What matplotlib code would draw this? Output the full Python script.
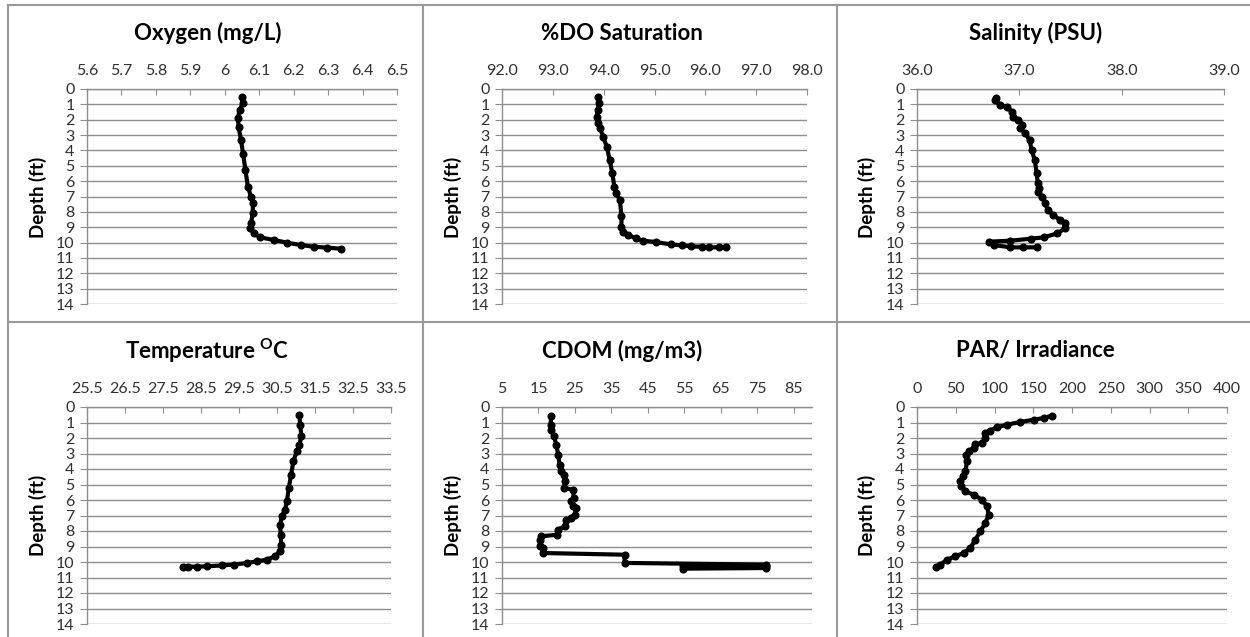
import matplotlib.pyplot as plt
from matplotlib.lines import Line2D

plt.rcParams['font.family'] = ['Lato', 'DejaVu Sans']
plt.rcParams['mathtext.fontset'] = 'custom'
plt.rcParams['mathtext.rm'] = 'Lato'
plt.rcParams['mathtext.bf'] = 'Lato:bold'

# ---- profile data (depth in ft, value) ----
oxy_depth = [0.5, 0.93, 1.37, 1.9, 2.45, 3.3, 4.2, 5.27, 6.36, 7.0, 7.45, 8.1, 8.75,
             9.07, 9.4, 9.66, 9.83, 10.0, 10.16, 10.27, 10.33, 10.4]
oxy_val = [6.05, 6.052, 6.043, 6.038, 6.04, 6.047, 6.053, 6.06, 6.067, 6.076, 6.082,
           6.081, 6.076, 6.074, 6.084, 6.103, 6.142, 6.18, 6.22, 6.258, 6.297, 6.336]

do_depth = [0.5, 0.93, 1.37, 1.8, 2.24, 2.56, 3.1, 3.75, 4.62, 5.49, 6.36, 6.8, 7.23,
            8.3, 8.96, 9.29, 9.5, 9.72, 9.88, 9.96, 10.12, 10.18, 10.25, 10.27, 10.31,
            10.31, 10.31]
do_val = [93.89, 93.91, 93.88, 93.86, 93.88, 93.93, 93.99, 94.06, 94.12, 94.17, 94.21,
          94.25, 94.32, 94.35, 94.35, 94.38, 94.48, 94.63, 94.77, 95.02, 95.32, 95.55,
          95.72, 95.93, 96.08, 96.26, 96.40]

sal_depth = [0.56, 0.72, 1.04, 1.19, 1.48, 1.8, 2.02, 2.34, 2.56, 2.89, 3.32, 3.97, 4.62,
             5.49, 6.14, 6.47, 6.69, 7.0, 7.45, 7.88, 8.2, 8.53, 8.75, 9.07, 9.4, 9.66,
             9.75, 9.88, 9.94, 10.16, 10.31, 10.31, 10.31]
sal_val = [36.77, 36.76, 36.81, 36.88, 36.93, 36.94, 36.99, 37.03, 37.01, 37.06, 37.10,
           37.12, 37.15, 37.17, 37.18, 37.19, 37.18, 37.22, 37.25, 37.28, 37.33, 37.40,
           37.45, 37.45, 37.37, 37.24, 37.11, 36.91, 36.70, 36.75, 36.91, 37.04, 37.17]

temp_depth = [0.49, 1.14, 1.89, 2.43, 2.86, 3.51, 4.37, 5.23, 6.09, 6.62, 7.05, 7.59,
              8.24, 8.88, 9.31, 9.63, 9.85, 9.96, 10.06, 10.17, 10.22, 10.28, 10.3,
              10.3, 10.3]
temp_val = [31.09, 31.11, 31.14, 31.09, 31.02, 30.93, 30.87, 30.81, 30.76, 30.71, 30.63,
            30.58, 30.60, 30.61, 30.57, 30.45, 30.23, 29.97, 29.71, 29.36, 29.05, 28.66,
            28.39, 28.17, 28.02]

cdom_depth = [0.6, 1.14, 1.46, 1.89, 2.43, 3.08, 3.72, 4.15, 4.37, 4.8, 5.23, 5.33, 5.87,
              6.09, 6.41, 6.52, 6.95, 7.16, 7.27, 7.7, 7.91, 8.24, 8.34, 8.56, 8.99, 9.1,
              9.42, 9.53, 10.06, 10.17, 10.28, 10.28, 10.43, 10.39]
cdom_val = [18.5, 18.3, 18.5, 19.2, 19.9, 20.4, 20.8, 21.1, 22.0, 22.2, 22.0, 24.4, 24.7,
            24.0, 24.4, 25.3, 24.9, 24.0, 22.6, 22.2, 20.4, 20.2, 15.8, 15.4, 15.4, 16.3,
            16.3, 38.6, 38.6, 77.4, 77.4, 54.6, 54.6, 77.4]

par_depth = [0.56, 0.71, 0.82, 0.97, 1.14, 1.31, 1.53, 1.68, 2.0, 2.32, 2.39, 2.65, 2.86,
             3.08, 3.51, 4.15, 4.47, 4.8, 5.12, 5.44, 5.66, 5.98, 6.41, 6.95, 7.48, 8.02,
             8.56, 9.1, 9.42, 9.63, 9.85, 10.17, 10.3]
par_val = [174.2, 163.4, 150.5, 133.3, 116.1, 103.2, 93.8, 88.2, 88.2, 83.9, 75.3, 73.1,
           66.7, 63.7, 64.5, 62.4, 59.4, 55.9, 56.8, 62.4, 73.1, 83.9, 90.3, 92.5, 88.2,
           81.7, 75.3, 68.8, 60.2, 49.5, 38.7, 30.1, 24.9]

titles = ['Oxygen (mg/L)', '%DO Saturation', 'Salinity (PSU)',
          r'Temperature $^{\mathbf{O}}$C', 'CDOM (mg/m3)', 'PAR/ Irradiance']
xticks = [[5.6, 5.7, 5.8, 5.9, 6.0, 6.1, 6.2, 6.3, 6.4, 6.5],
          [92, 93, 94, 95, 96, 97, 98],
          [36, 37, 38, 39],
          [25.5, 26.5, 27.5, 28.5, 29.5, 30.5, 31.5, 32.5, 33.5],
          [5, 15, 25, 35, 45, 55, 65, 75, 85],
          [0, 50, 100, 150, 200, 250, 300, 350, 400]]
xtick_labels = [['5.6', '5.7', '5.8', '5.9', '6', '6.1', '6.2', '6.3', '6.4', '6.5'],
                ['92.0', '93.0', '94.0', '95.0', '96.0', '97.0', '98.0'],
                ['36.0', '37.0', '38.0', '39.0'],
                ['25.5', '26.5', '27.5', '28.5', '29.5', '30.5', '31.5', '32.5', '33.5'],
                ['5', '15', '25', '35', '45', '55', '65', '75', '85'],
                ['0', '50', '100', '150', '200', '250', '300', '350', '400']]
xlims = [(5.6, 6.5), (92, 98), (36, 39), (25.5, 33.5), (5, 90), (0, 400)]
depths = [oxy_depth, do_depth, sal_depth, temp_depth, cdom_depth, par_depth]
values = [oxy_val, do_val, sal_val, temp_val, cdom_val, par_val]

W, H = 1250, 637
fig = plt.figure(figsize=(W / 100, H / 100), dpi=100)

# plot areas in pixels (x0, y0, x1, y1), y measured from top
boxes = [(87, 89, 397, 304), (502, 89, 807, 304), (917, 89, 1224, 304),
         (87, 407, 391, 624), (502, 407, 812, 624), (917, 407, 1227, 624)]
panel_left = [8, 423, 837]
panel_right = [423, 837, 1250]

grid_col = '#8e8e8e'
for i in range(6):
    x0, y0, x1, y1 = boxes[i]
    ax = fig.add_axes([x0 / W, 1 - y1 / H, (x1 - x0) / W, (y1 - y0) / H])
    ax.plot(values[i], depths[i], color='black', lw=3.0, marker='o', ms=4.8,
            solid_joinstyle='round', solid_capstyle='round')
    ax.set_xlim(*xlims[i])
    ax.set_ylim(14, 0)
    ax.set_yticks(range(15))
    ax.set_xticks(xticks[i])
    ax.set_xticklabels(xtick_labels[i])
    ax.xaxis.tick_top()
    ax.tick_params(axis='x', direction='in', length=4, color=grid_col, pad=8,
                   labelsize=11.5, labelcolor='#303030')
    ax.tick_params(axis='y', direction='out', length=5, color=grid_col, pad=4,
                   labelsize=11.5, labelcolor='#303030')
    ax.yaxis.grid(True, color=grid_col, lw=1)
    for s in ['right', 'bottom']:
        ax.spines[s].set_visible(False)
    for s in ['top', 'left']:
        ax.spines[s].set_color(grid_col)
        ax.spines[s].set_linewidth(1)

    col = i % 3
    row = i // 3
    cx = (panel_left[col] + panel_right[col]) / 2 - 8
    ty = 33 if row == 0 else 351
    fig.text(cx / W, 1 - ty / H, titles[i], ha='center', va='center',
             fontsize=16, fontweight='bold')
    ly = 197 if row == 0 else 515
    fig.text((panel_left[col] + 30) / W, 1 - ly / H, 'Depth (ft)', rotation=90,
             ha='center', va='center', fontsize=13.5, fontweight='bold')

# panel borders
bc = '#9a9a9a'
for xp in [8, 423, 837]:
    fig.add_artist(Line2D([xp / W, xp / W], [0, 1 - 5 / H], color=bc, lw=1.5))
for yp in [5, 322]:
    fig.add_artist(Line2D([8 / W, 1], [1 - yp / H, 1 - yp / H], color=bc, lw=1.5))

fig.savefig('out.png', dpi=100)
